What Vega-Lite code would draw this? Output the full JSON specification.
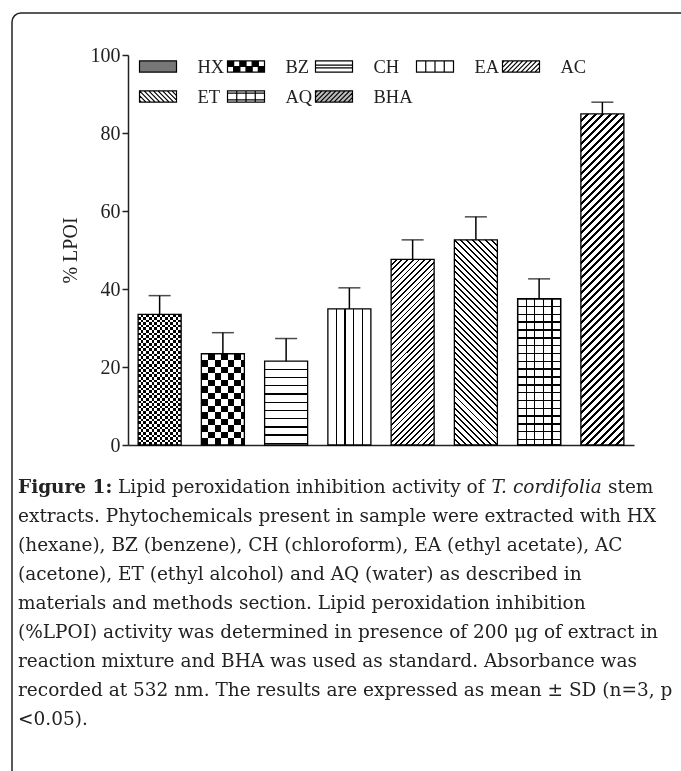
{
"$schema":"https://vega.github.io/schema/vega-lite/v6.json",
"width":700,"height":789,
"autosize":{"type":"none"},
"padding":{"left":12,"top":13,"right":-31,"bottom":-31},
"background":"white",
"config":{"view":{"stroke":"#222","strokeWidth":1.5,"cornerRadius":9},"font":"Liberation Serif"},
"data":{"values":[
{"g":"HX","v":33.5,"hi":38.3},{"g":"BZ","v":23.4,"hi":28.8},{"g":"CH","v":21.5,"hi":27.3},{"g":"EA","v":34.9,"hi":40.3},
{"g":"AC","v":47.6,"hi":52.6},{"g":"ET","v":52.6,"hi":58.5},{"g":"AQ","v":37.5,"hi":42.6},{"g":"BHA","v":84.9,"hi":87.9}]},
"title":{"text":"Figure 1:","subtitle":[
"\u200b\u00a0\u00a0\u00a0\u00a0\u00a0\u00a0\u00a0\u00a0\u00a0\u00a0\u00a0\u00a0\u00a0\u00a0\u00a0\u00a0\u00a0Lipid peroxidation inhibition activity of \u00a0\u00a0\u00a0\u00a0\u00a0\u00a0\u00a0\u00a0\u00a0\u00a0\u00a0\u00a0\u00a0\u00a0\u00a0\u00a0\u00a0\u00a0\u00a0 stem",
"extracts. Phytochemicals present in sample were extracted with HX",
"(hexane), BZ (benzene), CH (chloroform), EA (ethyl acetate), AC",
"(acetone), ET (ethyl alcohol) and AQ (water) as described in",
"materials and methods section. Lipid peroxidation inhibition",
"(%LPOI) activity was determined in presence of 200 μg of extract in",
"reaction mixture and BHA was used as standard. Absorbance was",
"recorded at 532 nm. The results are expressed as mean ± SD (n=3, p",
"<0.05)."],
"orient":"bottom","anchor":"start","frame":"group","offset":-324,"dx":6,"align":"left",
"font":"DejaVu Serif","fontSize":18.5,"fontWeight":"bold","color":"#222","lineHeight":29,
"subtitleFont":"DejaVu Serif","subtitleFontSize":18.5,"subtitleColor":"#222","subtitleLineHeight":29,"subtitlePadding":-18.5},
"encoding":{
"x":{"field":"g","type":"nominal","title":"T. cordifolia","scale":{"domain":["HX","BZ","CH","EA","AC","ET","AQ","BHA"],"range":[116,622],"paddingInner":0.32,"paddingOuter":0.16},
"axis":{"orient":"bottom","offset":-357,"labels":false,"ticks":false,"domainColor":"#222","domainWidth":1.5,"titleX":479,"titleY":47,"titleAlign":"left","titleAnchor":"start","titleBaseline":"alphabetic","titleFont":"DejaVu Serif","titleFontSize":18.5,"titleFontStyle":"italic","titleFontWeight":"normal","titleColor":"#222"}},
"y":{"field":"v","type":"quantitative","title":"% LPOI","scale":{"domain":[0,100],"range":[432,42],"nice":false},
"axis":{"orient":"left","offset":-116,"values":[0,20,40,60,80,100],"grid":false,"titleFont":"Liberation Serif","titleFontSize":20,"titleFontWeight":"normal","titleColor":"#222","titlePadding":10,"labelFont":"Liberation Serif","labelFontSize":20,"labelColor":"#222","labelPadding":2,"tickSize":6,"tickWidth":1.5,"tickColor":"#222","domainColor":"#222","domainWidth":1.5}}
},
"layer":[
{"mark":{"type":"point","filled":true,"size":0,"strokeWidth":1.2},
"encoding":{
"fill":{"field":"g","type":"nominal","scale":{"domain":["HX","BZ","CH","EA","AC","ET","AQ","BHA"],"range":["#777","#000","#fff","#fff","#fff","#fff","#fff","#bbb"]},
"legend":{"orient":"none","legendX":126.5,"legendY":34,"direction":"horizontal","columns":5,"title":null,"symbolSize":1369,"symbolStrokeWidth":1.2,"symbolOpacity":1,"labelFont":"Liberation Serif","labelFontSize":18.5,"labelColor":"#222","labelOffset":20,"columnPadding":0,"rowPadding":1,"gridAlign":"each","padding":0}},
"stroke":{"field":"g","type":"nominal","scale":{"domain":["HX","BZ","CH","EA","AC","ET","AQ","BHA"],"range":["#000","#000","#000","#000","#000","#000","#000","#000"]},
"legend":{"orient":"none","legendX":126.5,"legendY":34,"direction":"horizontal","columns":5,"title":null,"symbolSize":1369,"symbolStrokeWidth":1.2,"symbolOpacity":1,"labelFont":"Liberation Serif","labelFontSize":18.5,"labelColor":"#222","labelOffset":20,"columnPadding":0,"rowPadding":1,"gridAlign":"each","padding":0}},
"shape":{"field":"g","type":"nominal","scale":{"domain":["HX","BZ","CH","EA","AC","ET","AQ","BHA"],"range":[
"M-1,-0.3H1V0.3H-1Z",
"M-1,-0.3H1V0.3H-1ZM-1,-0.3V0.3H1V-0.3ZM-1,-0.3H-0.667V0H-1ZM-0.333,-0.3H0V0H-0.333ZM0.333,-0.3H0.667V0H0.333ZM-0.667,0H-0.333V0.3H-0.667ZM0,0H0.333V0.3H0ZM0.667,0H1V0.3H0.667Z",
"M-1,-0.3H1V0.3H-1ZM-1,-0.07H1M-1,0.07H1",
"M-1,-0.3H1V0.3H-1ZM-0.5,-0.3V0.3M0,-0.3V0.3M0.5,-0.3V0.3",
"M-1,-0.3H1V0.3H-1ZM-1,-0.2L-0.9,-0.3M-1,0.05L-0.65,-0.3M-1,0.3L-0.4,-0.3M-0.75,0.3L-0.15,-0.3M-0.5,0.3L0.1,-0.3M-0.25,0.3L0.35,-0.3M0,0.3L0.6,-0.3M0.25,0.3L0.85,-0.3M0.5,0.3L1,-0.2M0.75,0.3L1,0.05",
"M-1,-0.3H1V0.3H-1ZM-1,0.2L-0.9,0.3M-1,-0.05L-0.65,0.3M-1,-0.3L-0.4,0.3M-0.75,-0.3L-0.15,0.3M-0.5,-0.3L0.1,0.3M-0.25,-0.3L0.35,0.3M0,-0.3L0.6,0.3M0.25,-0.3L0.85,0.3M0.5,-0.3L1,0.2M0.75,-0.3L1,-0.05",
"M-1,-0.3H1V0.3H-1ZM-0.5,-0.3V0.3M0,-0.3V0.3M0.5,-0.3V0.3M-1,-0.18H1M-1,0.18H1",
"M-1,-0.3H1V0.3H-1ZM-1,-0.2L-0.9,-0.3M-1,0.05L-0.65,-0.3M-1,0.3L-0.4,-0.3M-0.75,0.3L-0.15,-0.3M-0.5,0.3L0.1,-0.3M-0.25,0.3L0.35,-0.3M0,0.3L0.6,-0.3M0.25,0.3L0.85,-0.3M0.5,0.3L1,-0.2M0.75,0.3L1,0.05"]},
"legend":{"orient":"none","legendX":126.5,"legendY":34,"direction":"horizontal","columns":5,"title":null,"symbolSize":1369,"symbolStrokeWidth":1.2,"symbolOpacity":1,"labelFont":"Liberation Serif","labelFontSize":18.5,"labelColor":"#222","labelOffset":20,"columnPadding":0,"rowPadding":1,"gridAlign":"each","padding":0}}
}},
{"transform":[{"filter":"datum.g=='HX'"}],"mark":{"type":"bar","stroke":"#000","strokeWidth":1.3,"fill":{"gradient":"linear","x1":0,"y1":0,"x2":0,"y2":1,"stops":[
{"offset":0.02,"color":"#fff"},{"offset":0.02,"color":"#000"},{"offset":0.04,"color":"#000"},{"offset":0.04,"color":"#fff"},
{"offset":0.06,"color":"#fff"},{"offset":0.06,"color":"#000"},{"offset":0.08,"color":"#000"},{"offset":0.08,"color":"#fff"},
{"offset":0.10,"color":"#fff"},{"offset":0.10,"color":"#000"},{"offset":0.12,"color":"#000"},{"offset":0.12,"color":"#fff"},
{"offset":0.14,"color":"#fff"},{"offset":0.14,"color":"#000"},{"offset":0.16,"color":"#000"},{"offset":0.16,"color":"#fff"},
{"offset":0.18,"color":"#fff"},{"offset":0.18,"color":"#000"},{"offset":0.20,"color":"#000"},{"offset":0.20,"color":"#fff"},
{"offset":0.22,"color":"#fff"},{"offset":0.22,"color":"#000"},{"offset":0.24,"color":"#000"},{"offset":0.24,"color":"#fff"},
{"offset":0.26,"color":"#fff"},{"offset":0.26,"color":"#000"},{"offset":0.28,"color":"#000"},{"offset":0.28,"color":"#fff"},
{"offset":0.30,"color":"#fff"},{"offset":0.30,"color":"#000"},{"offset":0.32,"color":"#000"},{"offset":0.32,"color":"#fff"},
{"offset":0.34,"color":"#fff"},{"offset":0.34,"color":"#000"},{"offset":0.36,"color":"#000"},{"offset":0.36,"color":"#fff"},
{"offset":0.38,"color":"#fff"},{"offset":0.38,"color":"#000"},{"offset":0.40,"color":"#000"},{"offset":0.40,"color":"#fff"},
{"offset":0.42,"color":"#fff"},{"offset":0.42,"color":"#000"},{"offset":0.44,"color":"#000"},{"offset":0.44,"color":"#fff"},
{"offset":0.46,"color":"#fff"},{"offset":0.46,"color":"#000"},{"offset":0.48,"color":"#000"},{"offset":0.48,"color":"#fff"},
{"offset":0.50,"color":"#fff"},{"offset":0.50,"color":"#000"},{"offset":0.52,"color":"#000"},{"offset":0.52,"color":"#fff"},
{"offset":0.54,"color":"#fff"},{"offset":0.54,"color":"#000"},{"offset":0.56,"color":"#000"},{"offset":0.56,"color":"#fff"},
{"offset":0.58,"color":"#fff"},{"offset":0.58,"color":"#000"},{"offset":0.60,"color":"#000"},{"offset":0.60,"color":"#fff"},
{"offset":0.62,"color":"#fff"},{"offset":0.62,"color":"#000"},{"offset":0.64,"color":"#000"},{"offset":0.64,"color":"#fff"},
{"offset":0.66,"color":"#fff"},{"offset":0.66,"color":"#000"},{"offset":0.68,"color":"#000"},{"offset":0.68,"color":"#fff"},
{"offset":0.70,"color":"#fff"},{"offset":0.70,"color":"#000"},{"offset":0.72,"color":"#000"},{"offset":0.72,"color":"#fff"},
{"offset":0.74,"color":"#fff"},{"offset":0.74,"color":"#000"},{"offset":0.76,"color":"#000"},{"offset":0.76,"color":"#fff"},
{"offset":0.78,"color":"#fff"},{"offset":0.78,"color":"#000"},{"offset":0.80,"color":"#000"},{"offset":0.80,"color":"#fff"},
{"offset":0.82,"color":"#fff"},{"offset":0.82,"color":"#000"},{"offset":0.84,"color":"#000"},{"offset":0.84,"color":"#fff"},
{"offset":0.86,"color":"#fff"},{"offset":0.86,"color":"#000"},{"offset":0.88,"color":"#000"},{"offset":0.88,"color":"#fff"},
{"offset":0.90,"color":"#fff"},{"offset":0.90,"color":"#000"},{"offset":0.92,"color":"#000"},{"offset":0.92,"color":"#fff"},
{"offset":0.94,"color":"#fff"},{"offset":0.94,"color":"#000"},{"offset":0.96,"color":"#000"},{"offset":0.96,"color":"#fff"},
{"offset":0.98,"color":"#fff"},{"offset":0.98,"color":"#000"}]}}},
{"transform":[{"filter":"datum.g=='HX'"}],"mark":{"type":"bar","stroke":"#000","strokeWidth":1.3,"blend":"difference","fill":{"gradient":"linear","x1":0,"y1":0,"x2":1,"y2":0,"stops":[
{"offset":0.0625,"color":"#000"},{"offset":0.0625,"color":"#fff"},{"offset":0.125,"color":"#fff"},{"offset":0.125,"color":"#000"},
{"offset":0.1875,"color":"#000"},{"offset":0.1875,"color":"#fff"},{"offset":0.25,"color":"#fff"},{"offset":0.25,"color":"#000"},
{"offset":0.3125,"color":"#000"},{"offset":0.3125,"color":"#fff"},{"offset":0.375,"color":"#fff"},{"offset":0.375,"color":"#000"},
{"offset":0.4375,"color":"#000"},{"offset":0.4375,"color":"#fff"},{"offset":0.5,"color":"#fff"},{"offset":0.5,"color":"#000"},
{"offset":0.5625,"color":"#000"},{"offset":0.5625,"color":"#fff"},{"offset":0.625,"color":"#fff"},{"offset":0.625,"color":"#000"},
{"offset":0.6875,"color":"#000"},{"offset":0.6875,"color":"#fff"},{"offset":0.75,"color":"#fff"},{"offset":0.75,"color":"#000"},
{"offset":0.8125,"color":"#000"},{"offset":0.8125,"color":"#fff"},{"offset":0.875,"color":"#fff"},{"offset":0.875,"color":"#000"},
{"offset":0.9375,"color":"#000"},{"offset":0.9375,"color":"#fff"}]}}},
{"transform":[{"filter":"datum.g=='BZ'"}],"mark":{"type":"bar","stroke":"#000","strokeWidth":1.3,"fill":{"gradient":"linear","x1":0,"y1":0,"x2":0,"y2":1,"stops":[
{"offset":0.0714,"color":"#fff"},{"offset":0.0714,"color":"#000"},{"offset":0.1429,"color":"#000"},{"offset":0.1429,"color":"#fff"},
{"offset":0.2143,"color":"#fff"},{"offset":0.2143,"color":"#000"},{"offset":0.2857,"color":"#000"},{"offset":0.2857,"color":"#fff"},
{"offset":0.3571,"color":"#fff"},{"offset":0.3571,"color":"#000"},{"offset":0.4286,"color":"#000"},{"offset":0.4286,"color":"#fff"},
{"offset":0.5,"color":"#fff"},{"offset":0.5,"color":"#000"},{"offset":0.5714,"color":"#000"},{"offset":0.5714,"color":"#fff"},
{"offset":0.6429,"color":"#fff"},{"offset":0.6429,"color":"#000"},{"offset":0.7143,"color":"#000"},{"offset":0.7143,"color":"#fff"},
{"offset":0.7857,"color":"#fff"},{"offset":0.7857,"color":"#000"},{"offset":0.8571,"color":"#000"},{"offset":0.8571,"color":"#fff"},
{"offset":0.9286,"color":"#fff"},{"offset":0.9286,"color":"#000"}]}}},
{"transform":[{"filter":"datum.g=='BZ'"}],"mark":{"type":"bar","stroke":"#000","strokeWidth":1.3,"blend":"difference","fill":{"gradient":"linear","x1":0,"y1":0,"x2":1,"y2":0,"stops":[
{"offset":0.1538,"color":"#000"},{"offset":0.1538,"color":"#fff"},{"offset":0.3077,"color":"#fff"},{"offset":0.3077,"color":"#000"},
{"offset":0.4615,"color":"#000"},{"offset":0.4615,"color":"#fff"},{"offset":0.6154,"color":"#fff"},{"offset":0.6154,"color":"#000"},
{"offset":0.7692,"color":"#000"},{"offset":0.7692,"color":"#fff"},{"offset":0.9231,"color":"#fff"},{"offset":0.9231,"color":"#000"}]}}},
{"transform":[{"filter":"datum.g=='CH'"}],"mark":{"type":"bar","stroke":"#000","strokeWidth":1.3,"fill":{"gradient":"linear","x1":0,"y1":0,"x2":0,"y2":1,"stops":[
{"offset":0.09,"color":"#fff"},{"offset":0.09,"color":"#000"},{"offset":0.106,"color":"#000"},{"offset":0.106,"color":"#fff"},
{"offset":0.188,"color":"#fff"},{"offset":0.188,"color":"#000"},{"offset":0.204,"color":"#000"},{"offset":0.204,"color":"#fff"},
{"offset":0.286,"color":"#fff"},{"offset":0.286,"color":"#000"},{"offset":0.302,"color":"#000"},{"offset":0.302,"color":"#fff"},
{"offset":0.384,"color":"#fff"},{"offset":0.384,"color":"#000"},{"offset":0.4,"color":"#000"},{"offset":0.4,"color":"#fff"},
{"offset":0.482,"color":"#fff"},{"offset":0.482,"color":"#000"},{"offset":0.498,"color":"#000"},{"offset":0.498,"color":"#fff"},
{"offset":0.58,"color":"#fff"},{"offset":0.58,"color":"#000"},{"offset":0.596,"color":"#000"},{"offset":0.596,"color":"#fff"},
{"offset":0.678,"color":"#fff"},{"offset":0.678,"color":"#000"},{"offset":0.694,"color":"#000"},{"offset":0.694,"color":"#fff"},
{"offset":0.776,"color":"#fff"},{"offset":0.776,"color":"#000"},{"offset":0.792,"color":"#000"},{"offset":0.792,"color":"#fff"},
{"offset":0.874,"color":"#fff"},{"offset":0.874,"color":"#000"},{"offset":0.89,"color":"#000"},{"offset":0.89,"color":"#fff"},
{"offset":0.972,"color":"#fff"},{"offset":0.972,"color":"#000"},{"offset":0.988,"color":"#000"},{"offset":0.988,"color":"#fff"}]}}},
{"transform":[{"filter":"datum.g=='EA'"}],"mark":{"type":"bar","stroke":"#000","strokeWidth":1.3,"fill":{"gradient":"linear","x1":0,"y1":0,"x2":1,"y2":0,"stops":[
{"offset":0.185,"color":"#fff"},{"offset":0.185,"color":"#000"},{"offset":0.215,"color":"#000"},{"offset":0.215,"color":"#fff"},
{"offset":0.385,"color":"#fff"},{"offset":0.385,"color":"#000"},{"offset":0.415,"color":"#000"},{"offset":0.415,"color":"#fff"},
{"offset":0.585,"color":"#fff"},{"offset":0.585,"color":"#000"},{"offset":0.615,"color":"#000"},{"offset":0.615,"color":"#fff"},
{"offset":0.785,"color":"#fff"},{"offset":0.785,"color":"#000"},{"offset":0.815,"color":"#000"},{"offset":0.815,"color":"#fff"}]}}},
{"transform":[{"filter":"datum.g=='AC'"}],"mark":{"type":"bar","stroke":"#000","strokeWidth":1.3,"fill":{"gradient":"linear","x1":0,"y1":0,"x2":0.2708,"y2":1.1689,"stops":[
{"offset":0.021,"color":"#fff"},{"offset":0.021,"color":"#000"},{"offset":0.029,"color":"#000"},{"offset":0.029,"color":"#fff"},
{"offset":0.046,"color":"#fff"},{"offset":0.046,"color":"#000"},{"offset":0.054,"color":"#000"},{"offset":0.054,"color":"#fff"},
{"offset":0.071,"color":"#fff"},{"offset":0.071,"color":"#000"},{"offset":0.079,"color":"#000"},{"offset":0.079,"color":"#fff"},
{"offset":0.096,"color":"#fff"},{"offset":0.096,"color":"#000"},{"offset":0.104,"color":"#000"},{"offset":0.104,"color":"#fff"},
{"offset":0.121,"color":"#fff"},{"offset":0.121,"color":"#000"},{"offset":0.129,"color":"#000"},{"offset":0.129,"color":"#fff"},
{"offset":0.146,"color":"#fff"},{"offset":0.146,"color":"#000"},{"offset":0.154,"color":"#000"},{"offset":0.154,"color":"#fff"},
{"offset":0.171,"color":"#fff"},{"offset":0.171,"color":"#000"},{"offset":0.179,"color":"#000"},{"offset":0.179,"color":"#fff"},
{"offset":0.196,"color":"#fff"},{"offset":0.196,"color":"#000"},{"offset":0.204,"color":"#000"},{"offset":0.204,"color":"#fff"},
{"offset":0.221,"color":"#fff"},{"offset":0.221,"color":"#000"},{"offset":0.229,"color":"#000"},{"offset":0.229,"color":"#fff"},
{"offset":0.246,"color":"#fff"},{"offset":0.246,"color":"#000"},{"offset":0.254,"color":"#000"},{"offset":0.254,"color":"#fff"},
{"offset":0.271,"color":"#fff"},{"offset":0.271,"color":"#000"},{"offset":0.279,"color":"#000"},{"offset":0.279,"color":"#fff"},
{"offset":0.296,"color":"#fff"},{"offset":0.296,"color":"#000"},{"offset":0.304,"color":"#000"},{"offset":0.304,"color":"#fff"},
{"offset":0.321,"color":"#fff"},{"offset":0.321,"color":"#000"},{"offset":0.329,"color":"#000"},{"offset":0.329,"color":"#fff"},
{"offset":0.346,"color":"#fff"},{"offset":0.346,"color":"#000"},{"offset":0.354,"color":"#000"},{"offset":0.354,"color":"#fff"},
{"offset":0.371,"color":"#fff"},{"offset":0.371,"color":"#000"},{"offset":0.379,"color":"#000"},{"offset":0.379,"color":"#fff"},
{"offset":0.396,"color":"#fff"},{"offset":0.396,"color":"#000"},{"offset":0.404,"color":"#000"},{"offset":0.404,"color":"#fff"},
{"offset":0.421,"color":"#fff"},{"offset":0.421,"color":"#000"},{"offset":0.429,"color":"#000"},{"offset":0.429,"color":"#fff"},
{"offset":0.446,"color":"#fff"},{"offset":0.446,"color":"#000"},{"offset":0.454,"color":"#000"},{"offset":0.454,"color":"#fff"},
{"offset":0.471,"color":"#fff"},{"offset":0.471,"color":"#000"},{"offset":0.479,"color":"#000"},{"offset":0.479,"color":"#fff"},
{"offset":0.496,"color":"#fff"},{"offset":0.496,"color":"#000"},{"offset":0.504,"color":"#000"},{"offset":0.504,"color":"#fff"},
{"offset":0.521,"color":"#fff"},{"offset":0.521,"color":"#000"},{"offset":0.529,"color":"#000"},{"offset":0.529,"color":"#fff"},
{"offset":0.546,"color":"#fff"},{"offset":0.546,"color":"#000"},{"offset":0.554,"color":"#000"},{"offset":0.554,"color":"#fff"},
{"offset":0.571,"color":"#fff"},{"offset":0.571,"color":"#000"},{"offset":0.579,"color":"#000"},{"offset":0.579,"color":"#fff"},
{"offset":0.596,"color":"#fff"},{"offset":0.596,"color":"#000"},{"offset":0.604,"color":"#000"},{"offset":0.604,"color":"#fff"},
{"offset":0.621,"color":"#fff"},{"offset":0.621,"color":"#000"},{"offset":0.629,"color":"#000"},{"offset":0.629,"color":"#fff"},
{"offset":0.646,"color":"#fff"},{"offset":0.646,"color":"#000"},{"offset":0.654,"color":"#000"},{"offset":0.654,"color":"#fff"},
{"offset":0.671,"color":"#fff"},{"offset":0.671,"color":"#000"},{"offset":0.679,"color":"#000"},{"offset":0.679,"color":"#fff"},
{"offset":0.696,"color":"#fff"},{"offset":0.696,"color":"#000"},{"offset":0.704,"color":"#000"},{"offset":0.704,"color":"#fff"},
{"offset":0.721,"color":"#fff"},{"offset":0.721,"color":"#000"},{"offset":0.729,"color":"#000"},{"offset":0.729,"color":"#fff"},
{"offset":0.746,"color":"#fff"},{"offset":0.746,"color":"#000"},{"offset":0.754,"color":"#000"},{"offset":0.754,"color":"#fff"},
{"offset":0.771,"color":"#fff"},{"offset":0.771,"color":"#000"},{"offset":0.779,"color":"#000"},{"offset":0.779,"color":"#fff"},
{"offset":0.796,"color":"#fff"},{"offset":0.796,"color":"#000"},{"offset":0.804,"color":"#000"},{"offset":0.804,"color":"#fff"},
{"offset":0.821,"color":"#fff"},{"offset":0.821,"color":"#000"},{"offset":0.829,"color":"#000"},{"offset":0.829,"color":"#fff"},
{"offset":0.846,"color":"#fff"},{"offset":0.846,"color":"#000"},{"offset":0.854,"color":"#000"},{"offset":0.854,"color":"#fff"},
{"offset":0.871,"color":"#fff"},{"offset":0.871,"color":"#000"},{"offset":0.879,"color":"#000"},{"offset":0.879,"color":"#fff"},
{"offset":0.896,"color":"#fff"},{"offset":0.896,"color":"#000"},{"offset":0.904,"color":"#000"},{"offset":0.904,"color":"#fff"},
{"offset":0.921,"color":"#fff"},{"offset":0.921,"color":"#000"},{"offset":0.929,"color":"#000"},{"offset":0.929,"color":"#fff"},
{"offset":0.946,"color":"#fff"},{"offset":0.946,"color":"#000"},{"offset":0.954,"color":"#000"},{"offset":0.954,"color":"#fff"},
{"offset":0.971,"color":"#fff"},{"offset":0.971,"color":"#000"},{"offset":0.979,"color":"#000"},{"offset":0.979,"color":"#fff"}]}}},
{"transform":[{"filter":"datum.g=='ET'"}],"mark":{"type":"bar","stroke":"#000","strokeWidth":1.3,"fill":{"gradient":"linear","x1":0,"y1":1,"x2":0.2429,"y2":-0.1587,"stops":[
{"offset":0.021,"color":"#fff"},{"offset":0.021,"color":"#000"},{"offset":0.029,"color":"#000"},{"offset":0.029,"color":"#fff"},
{"offset":0.046,"color":"#fff"},{"offset":0.046,"color":"#000"},{"offset":0.054,"color":"#000"},{"offset":0.054,"color":"#fff"},
{"offset":0.071,"color":"#fff"},{"offset":0.071,"color":"#000"},{"offset":0.079,"color":"#000"},{"offset":0.079,"color":"#fff"},
{"offset":0.096,"color":"#fff"},{"offset":0.096,"color":"#000"},{"offset":0.104,"color":"#000"},{"offset":0.104,"color":"#fff"},
{"offset":0.121,"color":"#fff"},{"offset":0.121,"color":"#000"},{"offset":0.129,"color":"#000"},{"offset":0.129,"color":"#fff"},
{"offset":0.146,"color":"#fff"},{"offset":0.146,"color":"#000"},{"offset":0.154,"color":"#000"},{"offset":0.154,"color":"#fff"},
{"offset":0.171,"color":"#fff"},{"offset":0.171,"color":"#000"},{"offset":0.179,"color":"#000"},{"offset":0.179,"color":"#fff"},
{"offset":0.196,"color":"#fff"},{"offset":0.196,"color":"#000"},{"offset":0.204,"color":"#000"},{"offset":0.204,"color":"#fff"},
{"offset":0.221,"color":"#fff"},{"offset":0.221,"color":"#000"},{"offset":0.229,"color":"#000"},{"offset":0.229,"color":"#fff"},
{"offset":0.246,"color":"#fff"},{"offset":0.246,"color":"#000"},{"offset":0.254,"color":"#000"},{"offset":0.254,"color":"#fff"},
{"offset":0.271,"color":"#fff"},{"offset":0.271,"color":"#000"},{"offset":0.279,"color":"#000"},{"offset":0.279,"color":"#fff"},
{"offset":0.296,"color":"#fff"},{"offset":0.296,"color":"#000"},{"offset":0.304,"color":"#000"},{"offset":0.304,"color":"#fff"},
{"offset":0.321,"color":"#fff"},{"offset":0.321,"color":"#000"},{"offset":0.329,"color":"#000"},{"offset":0.329,"color":"#fff"},
{"offset":0.346,"color":"#fff"},{"offset":0.346,"color":"#000"},{"offset":0.354,"color":"#000"},{"offset":0.354,"color":"#fff"},
{"offset":0.371,"color":"#fff"},{"offset":0.371,"color":"#000"},{"offset":0.379,"color":"#000"},{"offset":0.379,"color":"#fff"},
{"offset":0.396,"color":"#fff"},{"offset":0.396,"color":"#000"},{"offset":0.404,"color":"#000"},{"offset":0.404,"color":"#fff"},
{"offset":0.421,"color":"#fff"},{"offset":0.421,"color":"#000"},{"offset":0.429,"color":"#000"},{"offset":0.429,"color":"#fff"},
{"offset":0.446,"color":"#fff"},{"offset":0.446,"color":"#000"},{"offset":0.454,"color":"#000"},{"offset":0.454,"color":"#fff"},
{"offset":0.471,"color":"#fff"},{"offset":0.471,"color":"#000"},{"offset":0.479,"color":"#000"},{"offset":0.479,"color":"#fff"},
{"offset":0.496,"color":"#fff"},{"offset":0.496,"color":"#000"},{"offset":0.504,"color":"#000"},{"offset":0.504,"color":"#fff"},
{"offset":0.521,"color":"#fff"},{"offset":0.521,"color":"#000"},{"offset":0.529,"color":"#000"},{"offset":0.529,"color":"#fff"},
{"offset":0.546,"color":"#fff"},{"offset":0.546,"color":"#000"},{"offset":0.554,"color":"#000"},{"offset":0.554,"color":"#fff"},
{"offset":0.571,"color":"#fff"},{"offset":0.571,"color":"#000"},{"offset":0.579,"color":"#000"},{"offset":0.579,"color":"#fff"},
{"offset":0.596,"color":"#fff"},{"offset":0.596,"color":"#000"},{"offset":0.604,"color":"#000"},{"offset":0.604,"color":"#fff"},
{"offset":0.621,"color":"#fff"},{"offset":0.621,"color":"#000"},{"offset":0.629,"color":"#000"},{"offset":0.629,"color":"#fff"},
{"offset":0.646,"color":"#fff"},{"offset":0.646,"color":"#000"},{"offset":0.654,"color":"#000"},{"offset":0.654,"color":"#fff"},
{"offset":0.671,"color":"#fff"},{"offset":0.671,"color":"#000"},{"offset":0.679,"color":"#000"},{"offset":0.679,"color":"#fff"},
{"offset":0.696,"color":"#fff"},{"offset":0.696,"color":"#000"},{"offset":0.704,"color":"#000"},{"offset":0.704,"color":"#fff"},
{"offset":0.721,"color":"#fff"},{"offset":0.721,"color":"#000"},{"offset":0.729,"color":"#000"},{"offset":0.729,"color":"#fff"},
{"offset":0.746,"color":"#fff"},{"offset":0.746,"color":"#000"},{"offset":0.754,"color":"#000"},{"offset":0.754,"color":"#fff"},
{"offset":0.771,"color":"#fff"},{"offset":0.771,"color":"#000"},{"offset":0.779,"color":"#000"},{"offset":0.779,"color":"#fff"},
{"offset":0.796,"color":"#fff"},{"offset":0.796,"color":"#000"},{"offset":0.804,"color":"#000"},{"offset":0.804,"color":"#fff"},
{"offset":0.821,"color":"#fff"},{"offset":0.821,"color":"#000"},{"offset":0.829,"color":"#000"},{"offset":0.829,"color":"#fff"},
{"offset":0.846,"color":"#fff"},{"offset":0.846,"color":"#000"},{"offset":0.854,"color":"#000"},{"offset":0.854,"color":"#fff"},
{"offset":0.871,"color":"#fff"},{"offset":0.871,"color":"#000"},{"offset":0.879,"color":"#000"},{"offset":0.879,"color":"#fff"},
{"offset":0.896,"color":"#fff"},{"offset":0.896,"color":"#000"},{"offset":0.904,"color":"#000"},{"offset":0.904,"color":"#fff"},
{"offset":0.921,"color":"#fff"},{"offset":0.921,"color":"#000"},{"offset":0.929,"color":"#000"},{"offset":0.929,"color":"#fff"},
{"offset":0.946,"color":"#fff"},{"offset":0.946,"color":"#000"},{"offset":0.954,"color":"#000"},{"offset":0.954,"color":"#fff"},
{"offset":0.971,"color":"#fff"},{"offset":0.971,"color":"#000"},{"offset":0.979,"color":"#000"},{"offset":0.979,"color":"#fff"}]}}},
{"transform":[{"filter":"datum.g=='AQ'"}],"mark":{"type":"bar","stroke":"#000","strokeWidth":1.3,"fill":{"gradient":"linear","x1":0,"y1":0,"x2":1,"y2":0,"stops":[
{"offset":0.185,"color":"#fff"},{"offset":0.185,"color":"#000"},{"offset":0.215,"color":"#000"},{"offset":0.215,"color":"#fff"},
{"offset":0.385,"color":"#fff"},{"offset":0.385,"color":"#000"},{"offset":0.415,"color":"#000"},{"offset":0.415,"color":"#fff"},
{"offset":0.585,"color":"#fff"},{"offset":0.585,"color":"#000"},{"offset":0.615,"color":"#000"},{"offset":0.615,"color":"#fff"},
{"offset":0.785,"color":"#fff"},{"offset":0.785,"color":"#000"},{"offset":0.815,"color":"#000"},{"offset":0.815,"color":"#fff"}]}}},
{"transform":[{"filter":"datum.g=='AQ'"}],"mark":{"type":"bar","stroke":"#000","strokeWidth":1.3,"fill":{"gradient":"linear","x1":0,"y1":0,"x2":0,"y2":1,"stops":[
{"offset":0.0485,"color":"rgba(0,0,0,0)"},{"offset":0.0485,"color":"#000"},{"offset":0.0585,"color":"#000"},{"offset":0.0585,"color":"rgba(0,0,0,0)"},
{"offset":0.102,"color":"rgba(0,0,0,0)"},{"offset":0.102,"color":"#000"},{"offset":0.112,"color":"#000"},{"offset":0.112,"color":"rgba(0,0,0,0)"},
{"offset":0.1555,"color":"rgba(0,0,0,0)"},{"offset":0.1555,"color":"#000"},{"offset":0.1655,"color":"#000"},{"offset":0.1655,"color":"rgba(0,0,0,0)"},
{"offset":0.209,"color":"rgba(0,0,0,0)"},{"offset":0.209,"color":"#000"},{"offset":0.219,"color":"#000"},{"offset":0.219,"color":"rgba(0,0,0,0)"},
{"offset":0.2625,"color":"rgba(0,0,0,0)"},{"offset":0.2625,"color":"#000"},{"offset":0.2725,"color":"#000"},{"offset":0.2725,"color":"rgba(0,0,0,0)"},
{"offset":0.316,"color":"rgba(0,0,0,0)"},{"offset":0.316,"color":"#000"},{"offset":0.326,"color":"#000"},{"offset":0.326,"color":"rgba(0,0,0,0)"},
{"offset":0.3695,"color":"rgba(0,0,0,0)"},{"offset":0.3695,"color":"#000"},{"offset":0.3795,"color":"#000"},{"offset":0.3795,"color":"rgba(0,0,0,0)"},
{"offset":0.423,"color":"rgba(0,0,0,0)"},{"offset":0.423,"color":"#000"},{"offset":0.433,"color":"#000"},{"offset":0.433,"color":"rgba(0,0,0,0)"},
{"offset":0.4765,"color":"rgba(0,0,0,0)"},{"offset":0.4765,"color":"#000"},{"offset":0.4865,"color":"#000"},{"offset":0.4865,"color":"rgba(0,0,0,0)"},
{"offset":0.53,"color":"rgba(0,0,0,0)"},{"offset":0.53,"color":"#000"},{"offset":0.54,"color":"#000"},{"offset":0.54,"color":"rgba(0,0,0,0)"},
{"offset":0.5835,"color":"rgba(0,0,0,0)"},{"offset":0.5835,"color":"#000"},{"offset":0.5935,"color":"#000"},{"offset":0.5935,"color":"rgba(0,0,0,0)"},
{"offset":0.637,"color":"rgba(0,0,0,0)"},{"offset":0.637,"color":"#000"},{"offset":0.647,"color":"#000"},{"offset":0.647,"color":"rgba(0,0,0,0)"},
{"offset":0.6905,"color":"rgba(0,0,0,0)"},{"offset":0.6905,"color":"#000"},{"offset":0.7005,"color":"#000"},{"offset":0.7005,"color":"rgba(0,0,0,0)"},
{"offset":0.744,"color":"rgba(0,0,0,0)"},{"offset":0.744,"color":"#000"},{"offset":0.754,"color":"#000"},{"offset":0.754,"color":"rgba(0,0,0,0)"},
{"offset":0.7975,"color":"rgba(0,0,0,0)"},{"offset":0.7975,"color":"#000"},{"offset":0.8075,"color":"#000"},{"offset":0.8075,"color":"rgba(0,0,0,0)"},
{"offset":0.851,"color":"rgba(0,0,0,0)"},{"offset":0.851,"color":"#000"},{"offset":0.861,"color":"#000"},{"offset":0.861,"color":"rgba(0,0,0,0)"},
{"offset":0.9045,"color":"rgba(0,0,0,0)"},{"offset":0.9045,"color":"#000"},{"offset":0.9145,"color":"#000"},{"offset":0.9145,"color":"rgba(0,0,0,0)"},
{"offset":0.958,"color":"rgba(0,0,0,0)"},{"offset":0.958,"color":"#000"},{"offset":0.968,"color":"#000"},{"offset":0.968,"color":"rgba(0,0,0,0)"}]}}},
{"transform":[{"filter":"datum.g=='BHA'"}],"mark":{"type":"bar","stroke":"#000","strokeWidth":1.3,"fill":{"gradient":"linear","x1":0,"y1":0,"x2":0.1443,"y2":1.1112,"stops":[
{"offset":0.016,"color":"#fff"},{"offset":0.016,"color":"#000"},{"offset":0.024,"color":"#000"},{"offset":0.024,"color":"#fff"},
{"offset":0.036,"color":"#fff"},{"offset":0.036,"color":"#000"},{"offset":0.044,"color":"#000"},{"offset":0.044,"color":"#fff"},
{"offset":0.056,"color":"#fff"},{"offset":0.056,"color":"#000"},{"offset":0.064,"color":"#000"},{"offset":0.064,"color":"#fff"},
{"offset":0.076,"color":"#fff"},{"offset":0.076,"color":"#000"},{"offset":0.084,"color":"#000"},{"offset":0.084,"color":"#fff"},
{"offset":0.096,"color":"#fff"},{"offset":0.096,"color":"#000"},{"offset":0.104,"color":"#000"},{"offset":0.104,"color":"#fff"},
{"offset":0.116,"color":"#fff"},{"offset":0.116,"color":"#000"},{"offset":0.124,"color":"#000"},{"offset":0.124,"color":"#fff"},
{"offset":0.136,"color":"#fff"},{"offset":0.136,"color":"#000"},{"offset":0.144,"color":"#000"},{"offset":0.144,"color":"#fff"},
{"offset":0.156,"color":"#fff"},{"offset":0.156,"color":"#000"},{"offset":0.164,"color":"#000"},{"offset":0.164,"color":"#fff"},
{"offset":0.176,"color":"#fff"},{"offset":0.176,"color":"#000"},{"offset":0.184,"color":"#000"},{"offset":0.184,"color":"#fff"},
{"offset":0.196,"color":"#fff"},{"offset":0.196,"color":"#000"},{"offset":0.204,"color":"#000"},{"offset":0.204,"color":"#fff"},
{"offset":0.216,"color":"#fff"},{"offset":0.216,"color":"#000"},{"offset":0.224,"color":"#000"},{"offset":0.224,"color":"#fff"},
{"offset":0.236,"color":"#fff"},{"offset":0.236,"color":"#000"},{"offset":0.244,"color":"#000"},{"offset":0.244,"color":"#fff"},
{"offset":0.256,"color":"#fff"},{"offset":0.256,"color":"#000"},{"offset":0.264,"color":"#000"},{"offset":0.264,"color":"#fff"},
{"offset":0.276,"color":"#fff"},{"offset":0.276,"color":"#000"},{"offset":0.284,"color":"#000"},{"offset":0.284,"color":"#fff"},
{"offset":0.296,"color":"#fff"},{"offset":0.296,"color":"#000"},{"offset":0.304,"color":"#000"},{"offset":0.304,"color":"#fff"},
{"offset":0.316,"color":"#fff"},{"offset":0.316,"color":"#000"},{"offset":0.324,"color":"#000"},{"offset":0.324,"color":"#fff"},
{"offset":0.336,"color":"#fff"},{"offset":0.336,"color":"#000"},{"offset":0.344,"color":"#000"},{"offset":0.344,"color":"#fff"},
{"offset":0.356,"color":"#fff"},{"offset":0.356,"color":"#000"},{"offset":0.364,"color":"#000"},{"offset":0.364,"color":"#fff"},
{"offset":0.376,"color":"#fff"},{"offset":0.376,"color":"#000"},{"offset":0.384,"color":"#000"},{"offset":0.384,"color":"#fff"},
{"offset":0.396,"color":"#fff"},{"offset":0.396,"color":"#000"},{"offset":0.404,"color":"#000"},{"offset":0.404,"color":"#fff"},
{"offset":0.416,"color":"#fff"},{"offset":0.416,"color":"#000"},{"offset":0.424,"color":"#000"},{"offset":0.424,"color":"#fff"},
{"offset":0.436,"color":"#fff"},{"offset":0.436,"color":"#000"},{"offset":0.444,"color":"#000"},{"offset":0.444,"color":"#fff"},
{"offset":0.456,"color":"#fff"},{"offset":0.456,"color":"#000"},{"offset":0.464,"color":"#000"},{"offset":0.464,"color":"#fff"},
{"offset":0.476,"color":"#fff"},{"offset":0.476,"color":"#000"},{"offset":0.484,"color":"#000"},{"offset":0.484,"color":"#fff"},
{"offset":0.496,"color":"#fff"},{"offset":0.496,"color":"#000"},{"offset":0.504,"color":"#000"},{"offset":0.504,"color":"#fff"},
{"offset":0.516,"color":"#fff"},{"offset":0.516,"color":"#000"},{"offset":0.524,"color":"#000"},{"offset":0.524,"color":"#fff"},
{"offset":0.536,"color":"#fff"},{"offset":0.536,"color":"#000"},{"offset":0.544,"color":"#000"},{"offset":0.544,"color":"#fff"},
{"offset":0.556,"color":"#fff"},{"offset":0.556,"color":"#000"},{"offset":0.564,"color":"#000"},{"offset":0.564,"color":"#fff"},
{"offset":0.576,"color":"#fff"},{"offset":0.576,"color":"#000"},{"offset":0.584,"color":"#000"},{"offset":0.584,"color":"#fff"},
{"offset":0.596,"color":"#fff"},{"offset":0.596,"color":"#000"},{"offset":0.604,"color":"#000"},{"offset":0.604,"color":"#fff"},
{"offset":0.616,"color":"#fff"},{"offset":0.616,"color":"#000"},{"offset":0.624,"color":"#000"},{"offset":0.624,"color":"#fff"},
{"offset":0.636,"color":"#fff"},{"offset":0.636,"color":"#000"},{"offset":0.644,"color":"#000"},{"offset":0.644,"color":"#fff"},
{"offset":0.656,"color":"#fff"},{"offset":0.656,"color":"#000"},{"offset":0.664,"color":"#000"},{"offset":0.664,"color":"#fff"},
{"offset":0.676,"color":"#fff"},{"offset":0.676,"color":"#000"},{"offset":0.684,"color":"#000"},{"offset":0.684,"color":"#fff"},
{"offset":0.696,"color":"#fff"},{"offset":0.696,"color":"#000"},{"offset":0.704,"color":"#000"},{"offset":0.704,"color":"#fff"},
{"offset":0.716,"color":"#fff"},{"offset":0.716,"color":"#000"},{"offset":0.724,"color":"#000"},{"offset":0.724,"color":"#fff"},
{"offset":0.736,"color":"#fff"},{"offset":0.736,"color":"#000"},{"offset":0.744,"color":"#000"},{"offset":0.744,"color":"#fff"},
{"offset":0.756,"color":"#fff"},{"offset":0.756,"color":"#000"},{"offset":0.764,"color":"#000"},{"offset":0.764,"color":"#fff"},
{"offset":0.776,"color":"#fff"},{"offset":0.776,"color":"#000"},{"offset":0.784,"color":"#000"},{"offset":0.784,"color":"#fff"},
{"offset":0.796,"color":"#fff"},{"offset":0.796,"color":"#000"},{"offset":0.804,"color":"#000"},{"offset":0.804,"color":"#fff"},
{"offset":0.816,"color":"#fff"},{"offset":0.816,"color":"#000"},{"offset":0.824,"color":"#000"},{"offset":0.824,"color":"#fff"},
{"offset":0.836,"color":"#fff"},{"offset":0.836,"color":"#000"},{"offset":0.844,"color":"#000"},{"offset":0.844,"color":"#fff"},
{"offset":0.856,"color":"#fff"},{"offset":0.856,"color":"#000"},{"offset":0.864,"color":"#000"},{"offset":0.864,"color":"#fff"},
{"offset":0.876,"color":"#fff"},{"offset":0.876,"color":"#000"},{"offset":0.884,"color":"#000"},{"offset":0.884,"color":"#fff"},
{"offset":0.896,"color":"#fff"},{"offset":0.896,"color":"#000"},{"offset":0.904,"color":"#000"},{"offset":0.904,"color":"#fff"},
{"offset":0.916,"color":"#fff"},{"offset":0.916,"color":"#000"},{"offset":0.924,"color":"#000"},{"offset":0.924,"color":"#fff"},
{"offset":0.936,"color":"#fff"},{"offset":0.936,"color":"#000"},{"offset":0.944,"color":"#000"},{"offset":0.944,"color":"#fff"},
{"offset":0.956,"color":"#fff"},{"offset":0.956,"color":"#000"},{"offset":0.964,"color":"#000"},{"offset":0.964,"color":"#fff"},
{"offset":0.976,"color":"#fff"},{"offset":0.976,"color":"#000"},{"offset":0.984,"color":"#000"},{"offset":0.984,"color":"#fff"}]}}},
{"mark":{"type":"rule","color":"#000","strokeWidth":1.5},"encoding":{"y2":{"field":"hi"}}},
{"mark":{"type":"tick","color":"#000","thickness":1.5,"size":22},"encoding":{"y":{"field":"hi","type":"quantitative","title":"% LPOI"}}}
]
}
